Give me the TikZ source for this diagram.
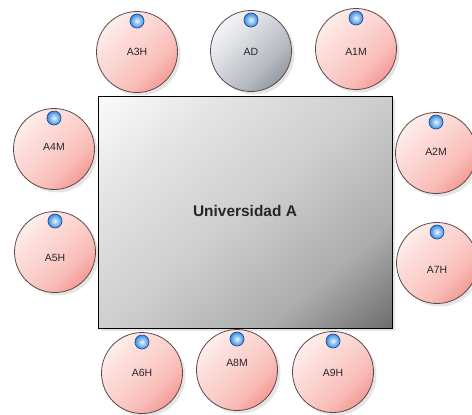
\documentclass[tikz,border=0pt]{standalone}
\usepackage{fontspec}
\setmainfont{Liberation Sans}
\usetikzlibrary{shadows}
\definecolor{pinkL}{HTML}{FEEEEC}
\definecolor{pinkA}{HTML}{FCDCD9}
\definecolor{pinkM}{HTML}{FBCFCB}
\definecolor{pinkB}{HTML}{F9BDB8}
\definecolor{pinkD}{HTML}{F59C96}
\definecolor{greyL}{HTML}{F4F5F7}
\definecolor{greyA}{HTML}{E0E2E6}
\definecolor{greyM}{HTML}{CBCED4}
\definecolor{greyB}{HTML}{B4B8BF}
\definecolor{greyD}{HTML}{969BA4}
\definecolor{circedge}{HTML}{5A4848}
\definecolor{rectL}{HTML}{FCFCFC}
\definecolor{rectA}{HTML}{E2E2E2}
\definecolor{rectM}{HTML}{CECECE}
\definecolor{rectB}{HTML}{ACACAC}
\definecolor{rectD}{HTML}{6A6A6A}
\definecolor{dotIn}{HTML}{E6F7FF}
\definecolor{dotOut}{HTML}{3C8AE0}
\definecolor{dotEdge}{HTML}{1F4F9A}
\pgfdeclareverticalshading{unishade}{100bp}{color(0bp)=(rectD); color(14bp)=(rectD); color(30bp)=(rectB); color(50bp)=(rectM); color(68bp)=(rectA); color(86bp)=(rectL); color(100bp)=(rectL)}
\pgfdeclareverticalshading{pinkshade}{100bp}{color(0bp)=(pinkD); color(25bp)=(pinkD); color(37bp)=(pinkB); color(50bp)=(pinkM); color(62bp)=(pinkA); color(75bp)=(pinkL); color(100bp)=(pinkL)}
\pgfdeclareverticalshading{greyshade}{100bp}{color(0bp)=(greyD); color(25bp)=(greyD); color(37bp)=(greyB); color(50bp)=(greyM); color(62bp)=(greyA); color(75bp)=(greyL); color(100bp)=(greyL)}
\newcommand\agentnode[6]{%
  \node[#6] (#1) at (#2,#3) {};
  \node[lbl] (#1lbl) at (#2,#5) {#4};
  \node[dotball, yshift=31bp] (#1dot) at (#1) {};
}
\begin{document}
\begin{tikzpicture}[x=1bp,y=-1bp,
  softshadow/.style={drop shadow={shadow xshift=3bp, shadow yshift=-3bp, opacity=0.10, fill=black}},
  agent/.style={circle, draw=circedge, line width=0.8bp, minimum size=81bp, inner sep=0pt,
    shade, shading=pinkshade, shading angle=45, softshadow},
  agentgrey/.style={agent, shading=greyshade, shading angle=45},
  lbl/.style={inner sep=0pt, text=black!85, font=\fontsize{10.5}{12}\selectfont},
  dotball/.style={circle, minimum size=14bp, inner sep=0pt, draw=dotEdge, line width=0.7bp,
    inner color=dotIn, outer color=dotOut},
  uni/.style={rectangle, draw=black, line width=1bp, minimum width=294bp, minimum height=232bp,
    shade, shading=unishade, shading angle=40, softshadow}]
\useasboundingbox (0,0) rectangle (472,414);
\node[uni] (univ) at (245,212) {};
\node[inner sep=0pt, font=\bfseries\fontsize{15.5}{18}\selectfont, text=black!85] (unilbl) at (245,211) {Universidad A};
\agentnode{a3h}{137}{52}{A3H}{52}{agent}
\agentnode{ad}{251}{51}{AD}{52}{agentgrey}
\agentnode{a1m}{356}{49}{A1M}{52}{agent}
\agentnode{a4m}{54}{149}{A4M}{147}{agent}
\agentnode{a5h}{55}{252}{A5H}{258}{agent}
\agentnode{a2m}{436}{153}{A2M}{152}{agent}
\agentnode{a7h}{437}{263}{A7H}{270}{agent}
\agentnode{a6h}{142}{373}{A6H}{373}{agent}
\agentnode{a8m}{237}{370}{A8M}{363}{agent}
\agentnode{a9h}{333}{372}{A9H}{373}{agent}
\end{tikzpicture}
\end{document}
